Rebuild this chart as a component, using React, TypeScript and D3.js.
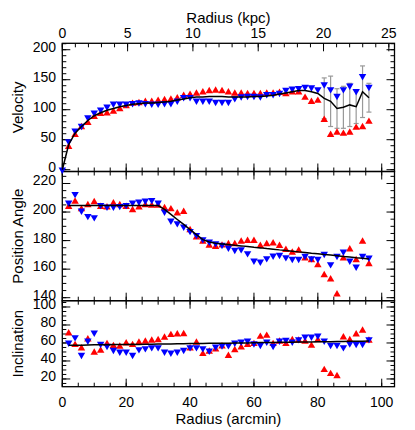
import React, { useEffect, useRef } from 'react';
import * as d3 from 'd3';

const W = 415;
const H = 430;

// ring radii (arcmin); the fitted velocity curve and blue side also start at 0
const radius = [2, 4, 6, 8, 10, 12, 14, 16, 18, 20, 22, 24, 26, 28, 30, 32, 34, 36, 38, 40, 42, 44, 46, 48,
  50, 52, 54, 56, 58, 60, 62, 64, 66, 68, 70, 72, 74, 76, 78, 80, 82, 84, 86, 88, 90, 92, 94, 96];
const radiusWithCentre = [0, 2, 4, 6, 8, 10, 12, 14, 16, 18, 20, 22, 24, 26, 28, 30, 32, 34, 36, 38, 40, 42, 44, 46, 48,
  50, 52, 54, 56, 58, 60, 62, 64, 66, 68, 70, 72, 74, 76, 78, 80, 82, 84, 86, 88, 90, 92, 94, 96];
const errRadius = [82, 84, 86, 88, 90, 92, 94, 96];

// rotation velocity
const velRed = [38, 58, 71, 78, 88, 93, 94, 97, 101, 106, 110, 111, 113, 113, 115, 116, 117, 119, 123, 125, 127, 129, 131, 132,
  131, 129, 127, 127, 126, 126, 126, 127, 127, 128, 126, 129, 129, 120, 113, 115, 83, 58, 62, 60, 62, 70, 71, 80];
const velBlue = [0, 47, 65, 73, 87, 95, 100, 105, 110, 110, 110, 111, 112, 111, 110, 110, 111, 111, 115, 121, 121, 115, 115, 115, 113,
  113, 113, 119, 122, 123, 123, 122, 126, 126, 128, 133, 135, 136, 138, 137, 134, 142, 134, 123, 134, 140, 131, 156, 138];
const velFit = [0, 42, 61, 72, 82, 90, 95, 99, 102, 105, 107, 109, 110, 111, 111, 112, 113, 114, 116, 118, 120, 121, 121, 122, 122,
  122, 121, 121, 121, 121, 122, 122, 123, 124, 126, 128, 130, 132, 132, 130, 127, 119, 114, 102, 104, 108, 105, 130, 120];
const velErr = [34, 42, 33, 35, 36, 28, 43, 24];

// position angle
const paRed = [203.7, 207.3, 202, 204.9, 207, 203.7, 203.3, 206.1, 204.9, 203.7, 201.4, 203.3, 204.9, 204.5, 204.5, 202.8,
  202, 199.1, 200.2, 187.4, 182.3, 179.3, 176.5, 175.7, 176.6, 177.6, 177.6, 179.3, 179.8, 179.8, 176.3, 177.6, 178.1,
  176.3, 173.5, 171.6, 173, 167.6, 166.4, 162.9, 155.9, 152.9, 142.4, 167.6, 173.9, 166.4, 179.3, 163.6];
const paBlue = [206.5, 212.6, 201, 197.2, 196.3, 204.9, 203.7, 203.7, 204.2, 204.9, 206.5, 207.3, 208, 208.4, 206.5, 200.2,
  193.9, 192.1, 189.7, 186.7, 183.9, 180.9, 179.3, 178.1, 176.9, 175, 173.5, 173.9, 171.1, 165.9, 165.2, 167.6, 169.4,
  169.9, 168.3, 167.1, 167.1, 169.2, 167.6, 167.1, 170.6, 163.4, 169.2, 172.2, 165.9, 161.7, 169.2, 168];
const paFit = [204.5, 204.5, 204.5, 204.5, 204.5, 204.5, 204.5, 204.5, 204.5, 204.5, 204.5, 204.5, 204.5, 204.5, 204.5, 201.9,
  198.4, 194.8, 191.3, 187.7, 184.2, 180.7, 179, 178.1, 177.6, 177.2, 176.7, 176.3, 175.8, 175.3, 174.9, 174.4, 174,
  173.5, 173.1, 172.6, 172.1, 171.7, 171.2, 170.8, 170.3, 169.9, 169.4, 168.9, 168.5, 168, 167.6, 167.1];

// inclination
const incRed = [70.7, 57.8, 54.1, 64.1, 49.3, 51.5, 58.9, 56.7, 55.9, 59.6, 57.8, 60.4, 61.5, 62.6, 63.3, 65.9, 68.9, 69.6,
  70, 54.1, 60.4, 47.8, 50.4, 53, 56.3, 45.7, 52.2, 55.2, 57.8, 58.9, 67, 68.1, 58.9, 61.5, 58.9, 63.3, 62.6, 61.5, 57,
  63.3, 30, 25.6, 23.3, 66.3, 63.3, 69.6, 73.7, 62.6];
const incBlue = [60.4, 66.3, 46.7, 62.6, 71.5, 58.9, 56.7, 52.2, 50.4, 50.4, 46.7, 53, 54.1, 55.2, 55.2, 50.4, 49.3, 50.4,
  52.2, 55.2, 55.2, 54.1, 51.5, 55.9, 57.2, 57.4, 60.4, 61.5, 62.6, 59.6, 57.8, 61.5, 56.7, 62.6, 63.3, 61.5, 64.1, 67,
  67, 68.1, 62.6, 57.8, 57.8, 55.2, 59.6, 58.9, 58.9, 64.1];
const incFit = [57.6, 57.5, 57.6, 57.8, 58, 57.9, 58.1, 58.2, 58.2, 58.4, 58.5, 58.4, 58.6, 58.7, 58.8, 58.8, 59, 59.1,
  59.1, 59.3, 59.4, 59.4, 59.6, 59.7, 59.8, 59.8, 60, 60.1, 60.1, 60.3, 60.4, 60.4, 60.6, 60.7, 60.8, 60.8, 61, 61.1,
  61.1, 61.3, 61.4, 61.4, 61.6, 61.7, 61.8, 61.8, 62, 62.1];

const velTicks = [0, 50, 100, 150, 200];
const paTicks = [140, 160, 180, 200, 220];
const incTicks = [20, 40, 60, 80, 100];
const arcminTicks = [0, 20, 40, 60, 80, 100];
const kpcTicks = [0, 5, 10, 15, 20, 25];

const FONT = '"Liberation Sans", Arial, Helvetica, sans-serif';

const App = () => {
  const svgRef = useRef<SVGSVGElement>(null);

  useEffect(() => {
    const svg = d3.select(svgRef.current);
    svg.selectAll('*').remove();

    const x0 = 62.3, x1 = 394.5;
    const x = d3.scaleLinear().domain([0, 104]).range([x0, x1]);
    const xk = d3.scaleLinear().domain([0, 104 / 4.089]).range([x0, x1]);

    const panels = [
      { title: 'Velocity', top: 43.3, bottom: 171.5, domain: [-3, 210.7], major: velTicks, minor: 10 },
      { title: 'Position Angle', top: 171.5, bottom: 300.7, domain: [137.9, 228.4], major: paTicks, minor: 5 },
      { title: 'Inclination', top: 300.7, bottom: 386.7, domain: [11.4, 107], major: incTicks, minor: 5 },
    ];
    const ys = panels.map(p => d3.scaleLinear().domain(p.domain).range([p.bottom, p.top]));

    const g = svg.append('g');

    const hTicks = (scale, vals, y, dir, len) => {
      g.selectAll(null).data(vals).enter().append('line')
        .attr('x1', d => scale(d)).attr('x2', d => scale(d))
        .attr('y1', y).attr('y2', y + dir * len)
        .attr('stroke', '#000').attr('stroke-width', 1);
    };
    const vTicks = (scale, vals, xp, dir, len) => {
      g.selectAll(null).data(vals).enter().append('line')
        .attr('y1', d => scale(d)).attr('y2', d => scale(d))
        .attr('x1', xp).attr('x2', xp + dir * len)
        .attr('stroke', '#000').attr('stroke-width', 1);
    };

    const arcMinor = d3.range(0, 104, 5);
    const kpcMinor = d3.range(0, 25.5, 1);

    panels.forEach((p, i) => {
      const y = ys[i];
      const minor = d3.range(Math.ceil(p.domain[0] / p.minor) * p.minor, p.domain[1], p.minor);
      vTicks(y, minor, x0, 1, 4);
      vTicks(y, p.major, x0, 1, 8);
      vTicks(y, minor, x1, -1, 4);
      vTicks(y, p.major, x1, -1, 8);
      hTicks(x, arcMinor, p.bottom, -1, 4);
      hTicks(x, arcminTicks, p.bottom, -1, 8);
      if (i === 0) {
        hTicks(xk, kpcMinor, p.top, 1, 4);
        hTicks(xk, kpcTicks, p.top, 1, 8);
      } else {
        hTicks(x, arcMinor, p.top, 1, 4);
        hTicks(x, arcminTicks, p.top, 1, 8);
      }
      g.append('rect')
        .attr('x', x0).attr('y', p.top)
        .attr('width', x1 - x0).attr('height', p.bottom - p.top)
        .attr('fill', 'none').attr('stroke', '#000').attr('stroke-width', 1.3);

      g.selectAll(null).data(p.major).enter().append('text')
        .attr('x', 56).attr('y', d => y(d) + 2)
        .attr('text-anchor', 'end')
        .attr('font-family', FONT).attr('font-size', 14)
        .text(d => d);

      g.append('text')
        .attr('transform', `translate(23,${(p.top + p.bottom) / 2}) rotate(-90)`)
        .attr('text-anchor', 'middle')
        .attr('font-family', FONT).attr('font-size', 15)
        .text(p.title);
    });

    // x axis labels
    g.selectAll(null).data(arcminTicks).enter().append('text')
      .attr('x', d => x(d)).attr('y', 407)
      .attr('text-anchor', 'middle')
      .attr('font-family', FONT).attr('font-size', 14)
      .text(d => d);
    g.append('text')
      .attr('x', (x0 + x1) / 2).attr('y', 424)
      .attr('text-anchor', 'middle')
      .attr('font-family', FONT).attr('font-size', 15)
      .text('Radius (arcmin)');

    g.selectAll(null).data(kpcTicks).enter().append('text')
      .attr('x', d => xk(d)).attr('y', 38)
      .attr('text-anchor', 'middle')
      .attr('font-family', FONT).attr('font-size', 14)
      .text(d => d);
    g.append('text')
      .attr('x', (x0 + x1) / 2).attr('y', 22.5)
      .attr('text-anchor', 'middle')
      .attr('font-family', FONT).attr('font-size', 15)
      .text('Radius (kpc)');

    // error bars on the outer velocity points
    const yv = ys[0];
    const errs = errRadius.map((r, i) => ({ r, v: velFit[radiusWithCentre.indexOf(r)], e: velErr[i] }));
    errs.forEach(d => {
      g.append('line')
        .attr('x1', x(d.r)).attr('x2', x(d.r))
        .attr('y1', yv(d.v - d.e)).attr('y2', yv(d.v + d.e))
        .attr('stroke', '#999').attr('stroke-width', 1.2);
      [d.v - d.e, d.v + d.e].forEach(c => {
        g.append('line')
          .attr('x1', x(d.r) - 2.5).attr('x2', x(d.r) + 2.5)
          .attr('y1', yv(c)).attr('y2', yv(c))
          .attr('stroke', '#999').attr('stroke-width', 1.2);
      });
    });

    const tri = d3.symbol().type(d3.symbolTriangle).size(24);
    const series = [
      { red: velRed, blue: velBlue, blueR: radiusWithCentre, fit: velFit, fitR: radiusWithCentre },
      { red: paRed, blue: paBlue, blueR: radius, fit: paFit, fitR: radius },
      { red: incRed, blue: incBlue, blueR: radius, fit: incFit, fitR: radius },
    ];

    series.forEach((s, i) => {
      const y = ys[i];
      g.selectAll(null).data(s.red).enter().append('path')
        .attr('d', tri)
        .attr('transform', (d, j) => `translate(${x(radius[j])},${y(d)})`)
        .attr('fill', '#ff0000');
      g.selectAll(null).data(s.blue).enter().append('path')
        .attr('d', tri)
        .attr('transform', (d, j) => `translate(${x(s.blueR[j])},${y(d)}) rotate(180)`)
        .attr('fill', '#0000ff');
      const line = d3.line<number>()
        .x((d, j) => x(s.fitR[j]))
        .y(d => y(d));
      g.append('path')
        .datum(s.fit)
        .attr('d', line)
        .attr('fill', 'none')
        .attr('stroke', '#000')
        .attr('stroke-width', 1.5);
    });
  }, []);

  return (
    <div style={{ position: 'absolute', left: 0, top: 0 }}>
      <svg ref={svgRef} width={W} height={H} style={{ display: 'block', background: '#fff' }}></svg>
    </div>
  );
};

export default App;
